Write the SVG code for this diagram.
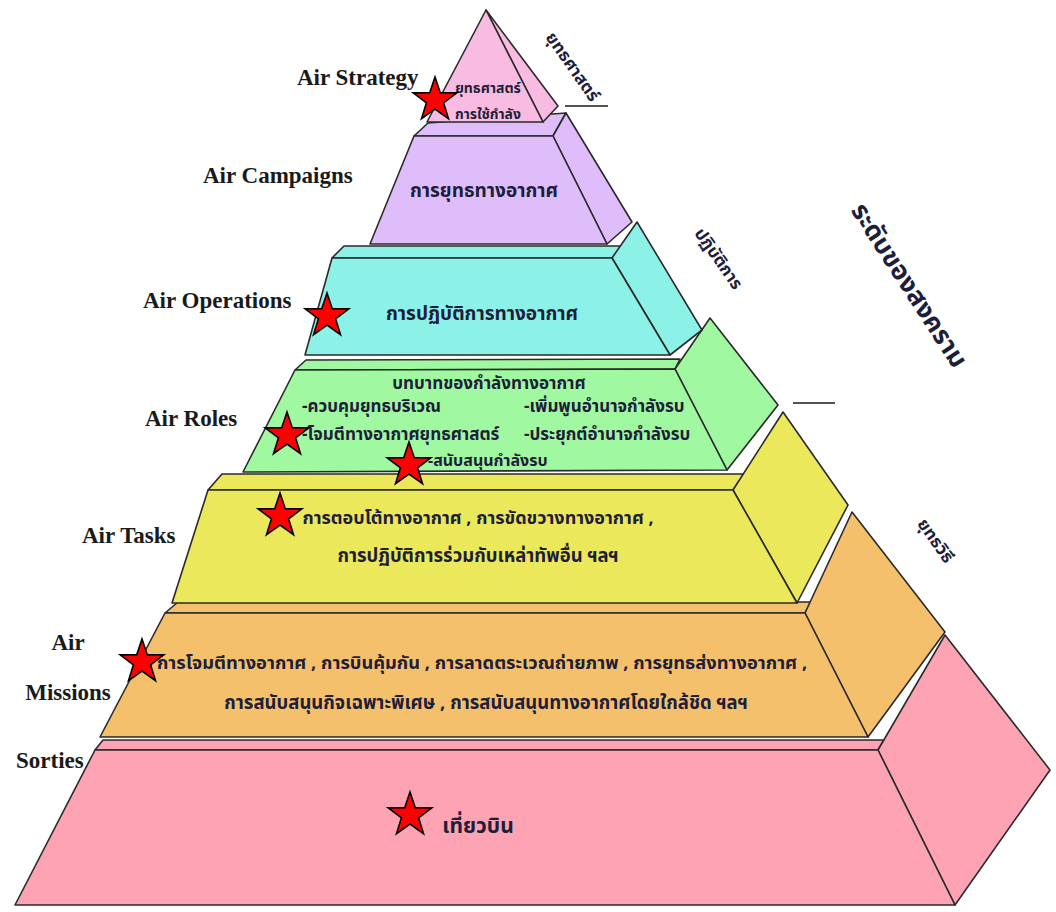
<svg xmlns="http://www.w3.org/2000/svg" width="1056" height="912" viewBox="0 0 1056 912">
<style>
.f{stroke:#2a2a2a;stroke-width:1.6;stroke-linejoin:round}
.lab{font-family:"Liberation Serif",serif;font-weight:bold;font-size:23px;fill:#1a1a1a}
.th{font-family:"Noto Sans Thai","Noto Serif Thai","Loma","Norasi","Garuda","Noto Sans",sans-serif;font-weight:bold;fill:#1e1e3a}
.st{fill:#ff0000;stroke:#000;stroke-width:1.6;stroke-linejoin:miter}
</style>
<defs>
<path id="star" d="M0,-23 L5.29,-7.28 L21.87,-7.11 L8.56,2.78 L13.52,18.61 L0,9 L-13.52,18.61 L-8.56,2.78 L-21.87,-7.11 L-5.29,-7.28 Z"/>
</defs>
<rect width="1056" height="912" fill="#ffffff"/>

<g id="tier-sorties">
<polygon class="f" fill="#fda3b3" points="95,750 103,740 884,740 878,750"/>
<polygon class="f" fill="#fda3b3" points="878,750 945,635 1050,770 955,905"/>
<polygon class="f" fill="#fda3b3" points="95,750 878,750 955,905 15,905"/>
</g>
<g id="tier-missions">
<polygon class="f" fill="#f5c06c" points="165,613 178,602 812,602 805,613"/>
<polygon class="f" fill="#f5c06c" points="805,613 852,512 945,632 868,737"/>
<polygon class="f" fill="#f5c06c" points="165,613 805,613 868,737 100,737"/>
</g>
<g id="tier-tasks">
<polygon class="f" fill="#ebe85c" points="208,490 222,474 744,474 733,490"/>
<polygon class="f" fill="#ebe85c" points="733,490 783,412 848,505 797,603"/>
<polygon class="f" fill="#ebe85c" points="208,490 733,490 797,603 172,603"/>
</g>
<g id="tier-roles">
<polygon class="f" fill="#a0f8a0" points="295,370 306,360 680,359 675,369"/>
<polygon class="f" fill="#a0f8a0" points="675,369 710,318 778,405 727,470"/>
<polygon class="f" fill="#a0f8a0" points="295,370 675,369 727,470 243,472"/>
</g>
<g id="tier-operations">
<polygon class="f" fill="#8cf2e8" points="332,258 344,246 622,246 612,258"/>
<polygon class="f" fill="#8cf2e8" points="612,258 637,222 702,330 670,355"/>
<polygon class="f" fill="#8cf2e8" points="332,258 612,258 670,355 305,355"/>
</g>
<g id="tier-campaigns">
<polygon class="f" fill="#dfbdfa" points="414,136 428,123 566,113 553,136"/>
<polygon class="f" fill="#dfbdfa" points="553,136 566,113 632,222 607,244"/>
<polygon class="f" fill="#dfbdfa" points="414,136 553,136 607,244 370,244"/>
</g>
<g id="tier-strategy">
<polygon class="f" fill="#f8bce2" points="486,10 558,106 543,122"/>
<polygon class="f" fill="#f8bce2" points="486,10 543,122 427,122"/>
</g>

<g id="connectors">
<line x1="565" y1="106" x2="608" y2="106" stroke="#1a1a1a" stroke-width="1.6"/>
<line x1="793" y1="403" x2="835" y2="403" stroke="#1a1a1a" stroke-width="1.6"/>
</g>

<g id="labels">
<text class="lab" x="297" y="85">Air Strategy</text>
<text class="lab" x="203" y="183">Air Campaigns</text>
<text class="lab" x="143" y="308">Air Operations</text>
<text class="lab" x="145" y="426">Air Roles</text>
<text class="lab" x="82" y="543">Air Tasks</text>
<text class="lab" x="68" y="650" text-anchor="middle">Air</text>
<text class="lab" x="68" y="700" text-anchor="middle">Missions</text>
<text class="lab" x="16" y="768">Sorties</text>
</g>

<g id="thai-text">
<text class="th" x="488" y="93" font-size="14" text-anchor="middle">ยุทธศาสตร์</text>
<text class="th" x="488" y="119" font-size="14" text-anchor="middle">การใช้กำลัง</text>
<text class="th" x="484" y="197" font-size="19" text-anchor="middle">การยุทธทางอากาศ</text>
<text class="th" x="482" y="320" font-size="19" text-anchor="middle">การปฏิบัติการทางอากาศ</text>
<text class="th" x="489" y="389" font-size="17" text-anchor="middle">บทบาทของกำลังทางอากาศ</text>
<text class="th" x="302" y="412" font-size="17">-ควบคุมยุทธบริเวณ</text>
<text class="th" x="524" y="412" font-size="17">-เพิ่มพูนอำนาจกำลังรบ</text>
<text class="th" x="302" y="440" font-size="17">-โจมตีทางอากาศยุทธศาสตร์</text>
<text class="th" x="524" y="440" font-size="17">-ประยุกต์อำนาจกำลังรบ</text>
<text class="th" x="428" y="466" font-size="16">-สนับสนุนกำลังรบ</text>
<text class="th" x="478" y="524" font-size="18" text-anchor="middle">การตอบโต้ทางอากาศ , การขัดขวางทางอากาศ ,</text>
<text class="th" x="478" y="562" font-size="18.5" text-anchor="middle">การปฏิบัติการร่วมกับเหล่าทัพอื่น ฯลฯ</text>
<text class="th" x="482" y="669" font-size="18.3" text-anchor="middle">การโจมตีทางอากาศ , การบินคุ้มกัน , การลาดตระเวณถ่ายภาพ , การยุทธส่งทางอากาศ ,</text>
<text class="th" x="486" y="709" font-size="18.5" text-anchor="middle">การสนับสนุนกิจเฉพาะพิเศษ , การสนับสนุนทางอากาศโดยใกล้ชิด ฯลฯ</text>
<text class="th" x="478" y="833" font-size="21" text-anchor="middle">เที่ยวบิน</text>
<text class="th" font-size="17" text-anchor="middle" transform="translate(568,70) rotate(55)">ยุทธศาสตร์</text>
<text class="th" font-size="17" text-anchor="middle" transform="translate(714,262) rotate(55)">ปฏิบัติการ</text>
<text class="th" font-size="26" text-anchor="middle" transform="translate(902,290) rotate(57)">ระดับของสงคราม</text>
<text class="th" font-size="17" text-anchor="middle" transform="translate(931,544) rotate(55)">ยุทธวิธี</text>
</g>

<g id="stars">
<use href="#star" class="st" x="435" y="100"/>
<use href="#star" class="st" x="327" y="316"/>
<use href="#star" class="st" x="287" y="435"/>
<use href="#star" class="st" x="409" y="465"/>
<use href="#star" class="st" x="280" y="516"/>
<use href="#star" class="st" x="142" y="662"/>
<use href="#star" class="st" x="410" y="815"/>
</g>
</svg>
